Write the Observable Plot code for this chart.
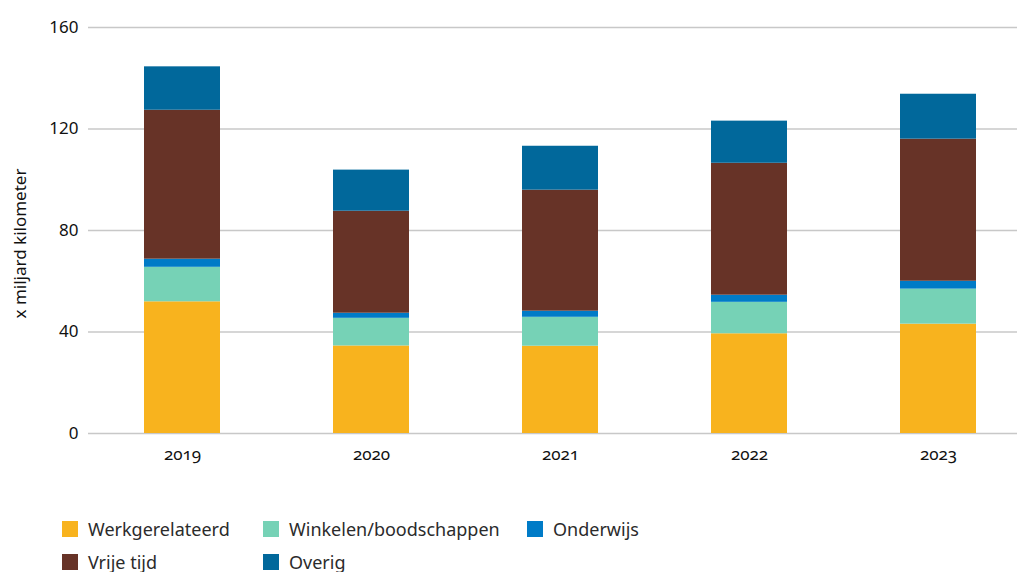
<!DOCTYPE html>
<html>
<head>
<meta charset="utf-8">
<script src="https://cdn.jsdelivr.net/npm/d3@7"></script>
<script src="https://cdn.jsdelivr.net/npm/@observablehq/plot@0.6"></script>
<style>
  body { margin: 0; background: #fff; font-family: "Noto Sans", "Open Sans", sans-serif; overflow: hidden; }
  #chart svg { display: block; }
  .legend { position: relative; height: 92px; }
  .item { position: absolute; display: flex; align-items: center; font-size: 18px; color: #2b2b2b; line-height: 1; }
  .sw { width: 16px; height: 16px; margin-right: 10px; flex: none; }
</style>
</head>
<body>
<div id="chart"></div>
<div class="legend" id="legend"></div>
<script>
const years = ["2019", "2020", "2021", "2022", "2023"];
const categories = ["Werkgerelateerd", "Winkelen/boodschappen", "Onderwijs", "Vrije tijd", "Overig"];
const colors = ["#F8B31E", "#76D2B6", "#007BC7", "#673327", "#01689B"];
const werk     = [51.9, 34.5, 34.4, 39.3, 43.1];
const winkelen = [13.6, 10.9, 11.4, 12.4, 13.8];
const onderwijs = [3.2, 2.0, 2.4, 2.8, 3.1];
const vrijeTijd = [58.7, 40.2, 47.7, 52.0, 56.0];
const overig   = [17.1, 16.2, 17.3, 16.6, 17.7];
const yTicks = [0, 40, 80, 120, 160];

const series = [werk, winkelen, onderwijs, vrijeTijd, overig];
const data = [];
years.forEach((yr, i) => {
  categories.forEach((c, j) => data.push({year: yr, cat: c, value: series[j][i]}));
});

const plot = Plot.plot({
  width: 1017,
  height: 480,
  marginLeft: 88,
  marginRight: 0,
  marginTop: 27,
  marginBottom: 47,
  style: {fontFamily: "'Noto Sans', 'Open Sans', sans-serif", fontSize: "17px", color: "#111", fontVariantNumeric: "oldstyle-nums"},
  x: {domain: years, paddingInner: 0.598, paddingOuter: 0.256, align: 0.582, label: null},
  y: {domain: [0, 160], label: null},
  color: {domain: categories, range: colors},
  marks: [
    Plot.gridY(yTicks, {stroke: "#c8c8c8", strokeOpacity: 1, strokeWidth: 1.5}),
    Plot.barY(data, {x: "year", y: "value", fill: "cat", order: categories}),
    Plot.axisY(yTicks, {tickSize: 0, tickPadding: 10, label: null, fontSize: 17}),
    Plot.axisX({tickSize: 0, tickPadding: 14, label: null, fontSize: 17}),
    Plot.text(["x miljard kilometer"], {frameAnchor: "left", textAnchor: "middle", rotate: -90, dx: -68, dy: 13, fontSize: 17, fill: "#111"})
  ]
});
document.getElementById("chart").appendChild(plot);

const legendPos = [[62, 40], [263, 40], [527, 40], [62, 73], [263, 73]];
const legend = document.getElementById("legend");
categories.forEach((c, i) => {
  const d = document.createElement("div");
  d.className = "item";
  d.style.left = legendPos[i][0] + "px";
  d.style.top = legendPos[i][1] + "px";
  d.innerHTML = `<span class="sw" style="background:${colors[i]}"></span><span>${c}</span>`;
  legend.appendChild(d);
});
</script>
</body>
</html>
